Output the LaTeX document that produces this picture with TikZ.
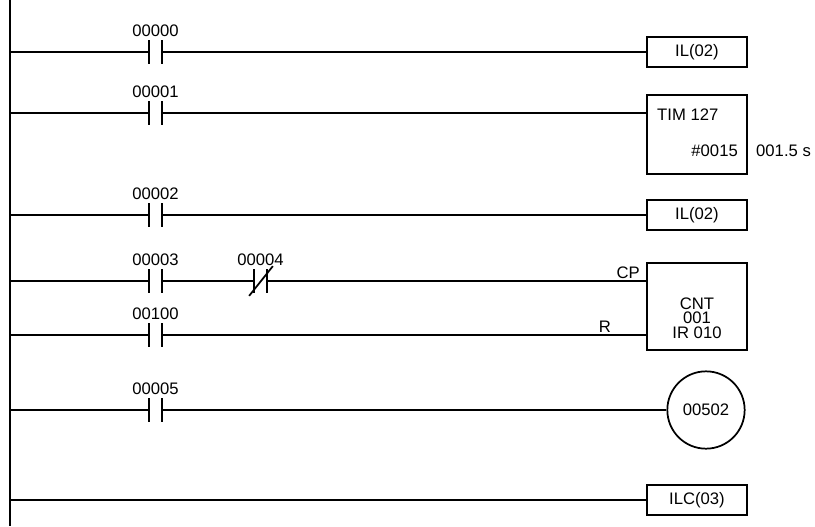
\documentclass[tikz,border=0pt]{standalone}
\usepackage{fontspec}
\setmainfont{Liberation Sans}
\newcommand{\ldfont}{\fontsize{12.5}{13.5}\selectfont}
\begin{document}
\begin{tikzpicture}[x=0.75pt,y=-0.75pt,line width=1.3pt,
    contact/.style={inner sep=0pt,minimum width=11pt*0.75,minimum height=16.5pt},
    instr/.style={draw,inner sep=0pt,minimum width=75pt,font=\ldfont},
    tag/.style={font=\ldfont,inner sep=1pt}]
  \useasboundingbox (0,0) rectangle (815,526);
  % Left rail
  \draw (10,0) -- (10,526);
  % Simple rungs: contact -> box
  \foreach \n/\y/\lab/\txt in {0/52/00000/IL(02), 2/215/00002/IL(02), 6/500/00006/ILC(03)}{
    \coordinate (r\n) at (10,\y);
    \node[instr,minimum height=22.5pt] (b\n) at (697,\y) {\txt};
  }
  \foreach \n/\y/\lab in {0/52/00000, 2/215/00002}{
    \node[contact] (c\n) at (155.5,\y) {};
    \node[tag,above=1pt] at (c\n.north) {\lab};
    \draw (c\n.north west) -- (c\n.south west) (c\n.north east) -- (c\n.south east);
    \draw (r\n) -- (c\n.west) (c\n.east) -- (b\n.west);
  }
  \draw (r6) -- (b6.west);
  % Timer
  \coordinate (r1) at (10,113);
  \node[contact] (c1) at (155.5,113) {};
  \node[tag,above=1pt] at (c1.north) {00001};
  \draw (c1.north west) -- (c1.south west) (c1.north east) -- (c1.south east);
  \node[draw,minimum width=75pt,minimum height=59pt] (tim) at (697,134.5) {};
  \node[tag,anchor=west] at (655,115) {TIM 127};
  \node[tag,anchor=east] at (740,151) {\#0015};
  \node[tag,anchor=west] at (754,151) {001.5 s};
  \draw (r1) -- (c1.west) (c1.east) -- (tim.west |- r1);
  % Counter
  \coordinate (r3) at (10,281);
  \coordinate (r4) at (10,335);
  \node[contact] (c3) at (155.5,281) {};
  \node[tag,above=1pt] at (c3.north) {00003};
  \node[contact] (c4) at (260.5,281) {};
  \node[tag,above=1pt] at (c4.north) {00004};
  \node[contact] (c5) at (155.5,335) {};
  \node[tag,above=1pt] at (c5.north) {00100};
  \foreach \c in {c3,c4,c5}
    \draw (\c.north west) -- (\c.south west) (\c.north east) -- (\c.south east);
  \draw ([shift={(-5,3)}]c4.south west) -- ([shift={(6,-3)}]c4.north east);
  \node[draw,minimum width=75pt,minimum height=65pt] (cnt) at (697,306.5) {};
  \node[tag,align=center,font=\fontsize{12.5}{11}\selectfont] at (697,318) {CNT\\001\\IR 010};
  \draw (r3) -- (c3.west) (c3.east) -- (c4.west) (c4.east) -- (cnt.west |- r3);
  \draw (r4) -- (c5.west) (c5.east) -- (cnt.west |- r4);
  \node[tag,anchor=south east] at (642,281) {CP};
  \node[tag,anchor=south east] at (613,335) {R};
  % Output coil
  \coordinate (r5) at (10,410);
  \node[contact] (c6) at (155.5,410) {};
  \node[tag,above=1pt] at (c6.north) {00005};
  \draw (c6.north west) -- (c6.south west) (c6.north east) -- (c6.south east);
  \node[draw,circle,minimum size=58pt,font=\ldfont] (out) at (706,410) {00502};
  \draw (r5) -- (c6.west) (c6.east) -- (out.west);
\end{tikzpicture}
\end{document}
